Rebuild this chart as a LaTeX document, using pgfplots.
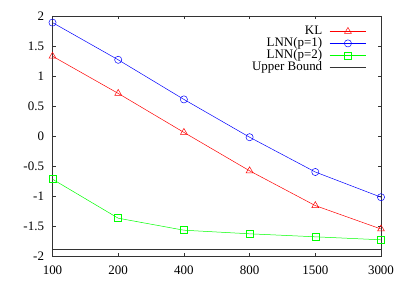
\documentclass[border=0pt]{standalone}
\usepackage{fontspec}
\setmainfont{Liberation Serif}
\usepackage{pgfplots}
\pgfplotsset{compat=1.18}
\begin{document}
\fontsize{13}{15}\selectfont
\begin{tikzpicture}
\useasboundingbox (-52.5bp,-28bp) rectangle (352.5bp,256bp);
\begin{axis}[
  at={(0,0)}, anchor=south west,
  scale only axis,
  width=328.5bp, height=240bp,
  xmin=0, xmax=5, ymin=-2, ymax=2,
  xtick={0,1,2,3,4,5},
  xticklabels={100,200,400,800,1500,3000},
  ytick={-2,-1.5,-1,-0.5,0,0.5,1,1.5,2},
  yticklabel style={/pgf/number format/fixed, xshift=-4bp},
  xticklabel style={yshift=-5bp},
  /pgf/number format/assume math mode=true,
  tick align=inside,
  major tick length=3bp,
  axis line style={black!80, line width=0.6pt},
  tick style={black!80, line width=0.5pt},
  ticklabel style={font=\fontsize{13}{15}\selectfont},
  legend style={at={(0.96,0.972)}, anchor=north east, draw=none, fill=none,
    font=\fontsize{13}{13}\selectfont, row sep=-3bp, column sep=5bp, inner sep=1pt,
    nodes={text height=8.5bp, text depth=2.5bp}},
  legend plot pos=right,
  legend cell align=right,
  legend image code/.code={\draw[mark repeat=2,mark phase=2] plot coordinates {(0cm,0cm)(0.65cm,0cm)(1.3cm,0cm)};},
]
\addplot[red, line width=0.5pt, mark=triangle, mark size=4pt, mark options={solid}] coordinates {
(0,1.33) (1,0.71) (2,0.06) (3,-0.58) (4,-1.16) (5,-1.55)};
\addlegendentry{KL}
\addplot[blue, line width=0.5pt, mark=o, mark size=3.6pt] coordinates {
(0,1.89) (1,1.27) (2,0.61) (3,-0.02) (4,-0.60) (5,-1.02)};
\addlegendentry{LNN(p=1)}
\addplot[green, line width=0.5pt, mark=square, mark size=3.5pt] coordinates {
(0,-0.72) (1,-1.37) (2,-1.57) (3,-1.63) (4,-1.68) (5,-1.73)};
\addlegendentry{LNN(p=2)}
\addplot[black!80, line width=0.6pt] coordinates {(0,-1.89) (5,-1.89)};
\addlegendentry{Upper Bound}
\end{axis}
\end{tikzpicture}
\end{document}
